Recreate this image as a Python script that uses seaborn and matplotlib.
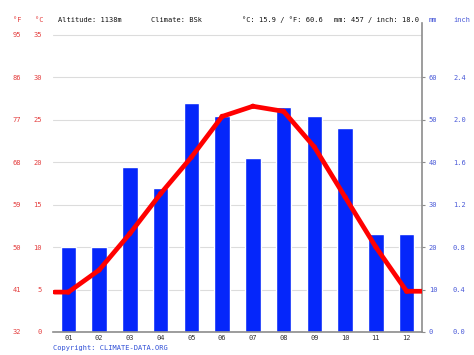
#Climate chart: precipitation bars + temperature line
import numpy as np
import matplotlib
matplotlib.use('Agg')
import matplotlib.pyplot as plt
import seaborn as sns

#Data
months = ['01', '02', '03', '04', '05', '06', '07', '08', '09', '10', '11', '12']
precip_mm = [20, 20, 39, 34, 54, 51, 41, 53, 51, 48, 23, 23]
temp_c = [4.7, 7.3, 11.6, 16.3, 20.6, 25.4, 26.6, 26.0, 21.8, 15.9, 10.0, 4.8]
c_ticks = [0, 5, 10, 15, 20, 25, 30, 35]
f_ticks = [32, 41, 50, 59, 68, 77, 86, 95]
mm_ticks = [0, 10, 20, 30, 40, 50, 60]
header = ['Altitude: 1138m', 'Climate: BSk', '°C: 15.9 / °F: 60.6', 'mm: 457 / inch: 18.0']

#Styles
sns.set_style('white')
plt.rcParams['font.family'] = ['DejaVu Sans Mono', 'DejaVu Sans']
plt.rc('font', size=5)
red_txt = '#e43d3d'
blue_txt = '#4a5ad8'
grey = '#8c8c8c'

fig = plt.figure(figsize=(4.74, 3.55), dpi=100)
ax = fig.add_axes([53/474, 23/355, 369/474, 309/355])

#bars (precipitation, mm)
sns.barplot(x=months, y=precip_mm, color='#0526fa', saturation=1, width=0.5, ax=ax, zorder=2)
xlim = (-0.45, 11.5)
c_top = 36.41
ax.set_xlim(*xlim)
ax.set_ylim(0, c_top*2)
ax.set_xlabel('')
ax.set_ylabel('')

#temperature line on a twin axis (twinx moves ax ticks, so set them after)
ax2 = ax.twinx()
line_x = np.r_[xlim[0], np.arange(len(months)), xlim[1]]
line_y = np.r_[temp_c[0], temp_c, temp_c[-1]]
sns.lineplot(x=line_x, y=line_y, color='#ff0000', linewidth=3.4, ax=ax2, sort=False)
sns.scatterplot(x=np.arange(len(months)), y=temp_c, color='#ee0000', s=14, edgecolor='none', ax=ax2)
ax2.set_ylim(0, c_top)
ax2.set_xlim(*xlim)
ax2.yaxis.tick_left()
ax2.set_yticks(c_ticks)
ax2.set_yticklabels([str(v) for v in c_ticks], color=red_txt, fontsize=5)
ax2.tick_params(axis='y', length=0, pad=8, left=True, right=False)
for s in ax2.spines.values():
    s.set_visible(False)

#mm axis on the right
ax.yaxis.tick_right()
ax.yaxis.set_label_position('right')
ax.set_yticks(mm_ticks + [70])
ax.set_yticklabels([str(v) for v in mm_ticks] + [''], color=blue_txt, fontsize=5)
ax.tick_params(axis='y', length=2, width=0.8, color=grey, pad=3, right=True, left=False)
ax.yaxis.get_major_ticks()[-1].tick2line.set_visible(False)
ax.grid(axis='y', color='#dcdcdc', linewidth=0.8)
ax.set_axisbelow(True)
ax.set_xticks(range(len(months)))
ax.set_xticklabels(months, color='#333333', fontsize=5)
ax.set_xticks(np.arange(-0.5, 12, 1), minor=True)
ax.tick_params(axis='x', which='major', length=0, pad=2.5)
ax.tick_params(axis='x', which='minor', length=2, width=0.8, color=grey)
for s in ['left', 'top']:
    ax.spines[s].set_visible(False)
for s in ['right', 'bottom']:
    ax.spines[s].set_color(grey)
    ax.spines[s].set_linewidth(1.2)

#inch labels beside mm
sec_in = ax.secondary_yaxis(1.084)
sec_in.set_yticks(mm_ticks)
sec_in.set_yticklabels(['%.1f' % (v/25.4) for v in mm_ticks], color=blue_txt, fontsize=5)
sec_in.tick_params(length=0, pad=0)
sec_in.spines['right'].set_visible(False)
for t in sec_in.get_yticklabels():
    t.set_ha('left')

#Fahrenheit labels
sec_f = ax2.secondary_yaxis(-0.0867, functions=(lambda c: c*9/5 + 32, lambda f: (f - 32)*5/9))
sec_f.set_yticks(f_ticks)
sec_f.set_yticklabels([str(v) for v in f_ticks], color=red_txt, fontsize=5)
sec_f.tick_params(length=0, pad=0)
sec_f.spines['left'].set_visible(False)

#header and footer
ty = 1 - 20/355
fig.text(21/474, ty, '°F', color=red_txt, ha='right', va='center')
fig.text(44/474, ty, '°C', color=red_txt, ha='right', va='center')
for xpx, s in zip([58, 151, 242, 334], header):
    fig.text(xpx/474, ty, s, color='#111111', ha='left', va='center')
fig.text(429/474, ty, 'mm', color=blue_txt, ha='left', va='center')
fig.text(453/474, ty, 'inch', color=blue_txt, ha='left', va='center')
fig.text(53/474, 1 - 348/355, 'Copyright: CLIMATE-DATA.ORG', color='#2f4fd6', ha='left', va='center')

fig.savefig('out.png', dpi=100)
